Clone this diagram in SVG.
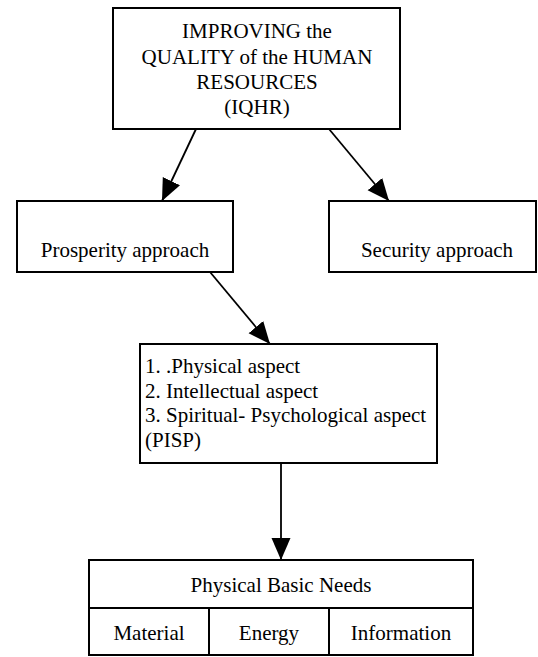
<svg xmlns="http://www.w3.org/2000/svg" width="538" height="657" viewBox="0 0 538 657">
<defs>
<style>
.box{fill:#fff;stroke:#000;stroke-width:2}
.t{font-family:'Liberation Serif',serif;font-size:21px;fill:#000}
.c{text-anchor:middle}
.conn{stroke:#000;stroke-width:1.8;fill:none}
</style>
<marker id="ah" markerUnits="userSpaceOnUse" markerWidth="24" markerHeight="20" refX="22" refY="9.5" orient="auto">
<path d="M0,0 L22,9.5 L0,19 z" fill="#000"/>
</marker>
</defs>
<rect width="538" height="657" fill="#fff"/>
<g id="connectors">
<line class="conn" x1="196" y1="129" x2="162" y2="201" marker-end="url(#ah)"/>
<line class="conn" x1="329" y1="129" x2="389" y2="201" marker-end="url(#ah)"/>
<line class="conn" x1="210" y1="272" x2="270" y2="344" marker-end="url(#ah)"/>
<line class="conn" x1="281" y1="463" x2="281" y2="560" marker-end="url(#ah)"/>
</g>
<g id="iqhr">
<rect class="box" x="113" y="8" width="287" height="121"/>
<text class="t c" x="257" y="38">IMPROVING the</text>
<text class="t c" x="257" y="64">QUALITY of the HUMAN</text>
<text class="t c" x="257" y="89">RESOURCES</text>
<text class="t c" x="257" y="114">(IQHR)</text>
</g>
<g id="prosperity">
<rect class="box" x="17" y="201" width="216" height="71"/>
<text class="t c" x="125" y="257">Prosperity approach</text>
</g>
<g id="security">
<rect class="box" x="329" y="201" width="207" height="71"/>
<text class="t c" x="437" y="257">Security approach</text>
</g>
<g id="pisp">
<rect class="box" x="140" y="344" width="297" height="119"/>
<text class="t" x="145" y="373">1. .Physical aspect</text>
<text class="t" x="145" y="398">2. Intellectual aspect</text>
<text class="t" x="145" y="422">3. Spiritual- Psychological aspect</text>
<text class="t" x="145" y="447">(PISP)</text>
</g>
<g id="needs">
<rect class="box" x="89" y="560" width="384" height="95"/>
<line class="box" x1="89" y1="608" x2="473" y2="608"/>
<line class="box" x1="209" y1="608" x2="209" y2="655"/>
<line class="box" x1="329" y1="608" x2="329" y2="655"/>
<text class="t c" x="281" y="592">Physical Basic Needs</text>
<text class="t c" x="149" y="640">Material</text>
<text class="t c" x="269" y="640">Energy</text>
<text class="t c" x="401" y="640">Information</text>
</g>
</svg>
